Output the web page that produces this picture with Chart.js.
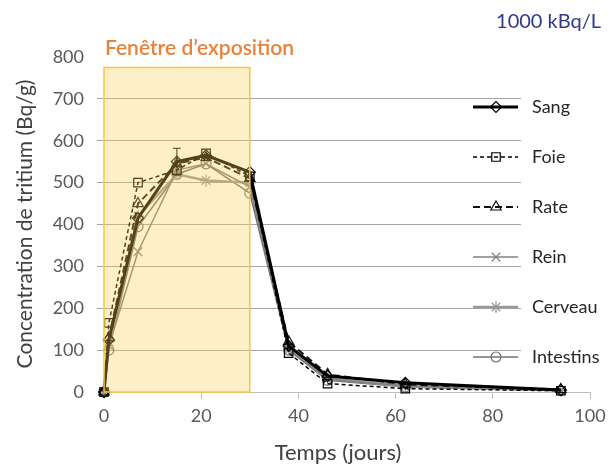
<!DOCTYPE html>
<html lang="fr">
<head>
<meta charset="UTF-8">
<title>Tritium - 1000 kBq/L</title>
<script src="https://cdn.jsdelivr.net/npm/chart.js"></script>
<style>
  html, body { margin: 0; padding: 0; background: #fff; }
  #cadre { position: relative; width: 615px; height: 466px; }
</style>
</head>
<body>
<div id="cadre"><canvas id="graphTritium" width="615" height="466"></canvas></div>

<script>
// Données
const jours = [0, 1, 7, 15, 21, 30, 38, 46, 62, 94];
const sang = [0, 125, 415, 550, 565, 525, 110, 38, 22, 5];
const foie = [0, 165, 500, 530, 570, 515, 93, 20, 8, 3];
const rate = [0, 130, 450, 545, 560, 510, 120, 42, 18, 6];
const rein = [0, 110, 335, 530, 545, 490, 100, 30, 15, 4];
const cerveau = [0, 120, 420, 520, 505, 500, 105, 32, 14, 4];
const intestins = [0, 100, 395, 520, 545, 475, 100, 28, 12, 3];
const sangErreur = [0, 0, 0, 32, 0, 0, 0, 0, 0, 0];

const ticksX = [0, 20, 40, 60, 80, 100];
const ticksY = [0, 100, 200, 300, 400, 500, 600, 700, 800];
const fenetre = [0, 30];
const fenetreHaut = 775;

const police = "Lato, 'Open Sans', sans-serif";

function pts(valeurs) {
    return jours.map((j, i) => ({ x: j, y: valeurs[i] }));
}

const series = [
    { label: 'Sang', data: pts(sang), borderColor: '#000', borderWidth: 3, pointStyle: 'rectRot', pointRadius: 5.5 },
    { label: 'Foie', data: pts(foie), borderColor: '#000', borderWidth: 1.5, borderDash: [4, 3], pointStyle: 'rect', pointRadius: 6 },
    { label: 'Rate', data: pts(rate), borderColor: '#111', borderWidth: 2, borderDash: [7, 4], pointStyle: 'triangle', pointRadius: 6 },
    { label: 'Rein', data: pts(rein), borderColor: '#808080', borderWidth: 1.5, pointStyle: 'crossRot', pointRadius: 6 },
    { label: 'Cerveau', data: pts(cerveau), borderColor: '#999', borderWidth: 2.5, pointStyle: 'star', pointRadius: 6 },
    { label: 'Intestins', data: pts(intestins), borderColor: '#737373', borderWidth: 1.5, pointStyle: 'circle', pointRadius: 5 }
].map(d => Object.assign({
    pointBorderColor: d.borderColor,
    pointBackgroundColor: 'rgba(255,255,255,0)',
    pointBorderWidth: 1.2,
    pointHoverRadius: d.pointRadius,
    tension: 0,
    clip: false
}, d));

// barres d'erreur + fenêtre d'exposition (par-dessus les courbes)
const dessins = {
    id: 'dessins',
    afterDatasetsDraw(chart) {
        const { ctx, scales: { x, y } } = chart;
        ctx.save();
        ctx.strokeStyle = '#000';
        ctx.lineWidth = 1;
        sangErreur.forEach((e, i) => {
            if (!e) return;
            const px = x.getPixelForValue(jours[i]);
            const haut = y.getPixelForValue(sang[i] + e);
            const bas = y.getPixelForValue(sang[i] - e);
            ctx.beginPath();
            ctx.moveTo(px, haut); ctx.lineTo(px, bas);
            ctx.moveTo(px - 4, haut); ctx.lineTo(px + 4, haut);
            ctx.moveTo(px - 4, bas); ctx.lineTo(px + 4, bas);
            ctx.stroke();
        });

        const x0 = x.getPixelForValue(fenetre[0]);
        const x1 = x.getPixelForValue(fenetre[1]);
        const y0 = y.getPixelForValue(0);
        const y1 = y.getPixelForValue(fenetreHaut);
        ctx.fillStyle = 'rgba(248, 205, 85, 0.32)';
        ctx.fillRect(x0, y1, x1 - x0, y0 - y1);
        ctx.strokeStyle = '#f8c53c';
        ctx.lineWidth = 1.5;
        ctx.strokeRect(x0, y1, x1 - x0, y0 - y1);
        ctx.restore();
    },
    afterDraw(chart) {
        const { ctx } = chart;
        ctx.save();
        // légende
        ctx.fillStyle = '#fff';
        ctx.fillRect(521, 76, 94, 300);
        chart.data.datasets.forEach((ds, i) => {
            const ly = 107 + 50 * i;
            ctx.strokeStyle = ds.borderColor;
            ctx.lineWidth = ds.borderWidth;
            ctx.setLineDash(ds.borderDash || []);
            ctx.beginPath();
            ctx.moveTo(473, ly); ctx.lineTo(518, ly);
            ctx.stroke();
            ctx.setLineDash([]);
            ctx.lineWidth = ds.pointBorderWidth;
            ctx.fillStyle = 'rgba(255,255,255,0)';
            Chart.helpers.drawPoint(ctx, { pointStyle: ds.pointStyle, radius: ds.pointRadius, rotation: 0, borderWidth: ds.pointBorderWidth }, 496, ly);
            ctx.fillStyle = '#262626';
            ctx.font = '18px ' + police;
            ctx.textBaseline = 'middle';
            ctx.textAlign = 'left';
            ctx.fillText(ds.label, 532, ly);
        });

        // titres des axes
        ctx.fillStyle = '#404040';
        ctx.textAlign = 'center';
        ctx.font = '22px ' + police;
        ctx.fillText('Temps (jours)', 338, 453);
        ctx.save();
        ctx.translate(25, 224);
        ctx.rotate(-Math.PI / 2);
        ctx.font = '21px ' + police;
        ctx.fillText('Concentration de tritium (Bq/g)', 0, 0);
        ctx.restore();

        ctx.textAlign = 'left';
        ctx.font = '600 21px ' + police;
        ctx.fillStyle = '#e8823a';
        ctx.fillText('Fenêtre d\u2019exposition', 105, 48);

        ctx.font = '20px ' + police;
        ctx.fillStyle = '#2e3a87';
        ctx.textAlign = 'right';
        ctx.fillText('1000 kBq/L', 601, 22);
        ctx.restore();
    }
};

const ctx = document.getElementById('graphTritium').getContext('2d');
new Chart(ctx, {
    type: 'line',
    data: { datasets: series },
    plugins: [dessins],
    options: {
        responsive: false,
        animation: false,
        devicePixelRatio: 1,
        layout: { padding: { left: 0, right: 25, top: 57, bottom: 0 } },
        plugins: {
            legend: { display: false },
            tooltip: { enabled: false }
        },
        scales: {
            x: {
                type: 'linear',
                min: 0,
                max: 100,
                afterBuildTicks: s => { s.ticks = ticksX.map(v => ({ value: v })); },
                afterFit: s => { s.height = 74; },
                grid: { display: true, drawOnChartArea: false, drawTicks: true, tickLength: 7, color: '#bfbfbf' },
                border: { display: true, color: '#bfbfbf', width: 1 },
                ticks: { color: '#595959', font: { family: police, size: 18 }, padding: 6, maxRotation: 0 }
            },
            y: {
                type: 'linear',
                min: 0,
                max: 800,
                afterBuildTicks: s => { s.ticks = ticksY.map(v => ({ value: v })); },
                afterFit: s => { s.width = 104; },
                grid: {
                    color: c => c.tick && (c.tick.value === 800 || c.tick.value === 0) ? 'rgba(0,0,0,0)' : '#a6a6a6',
                    tickLength: 7,
                    lineWidth: 1
                },
                border: { display: false },
                ticks: { color: '#595959', font: { family: police, size: 18 }, padding: 13 }
            }
        }
    }
});
</script>
</body>
</html>
